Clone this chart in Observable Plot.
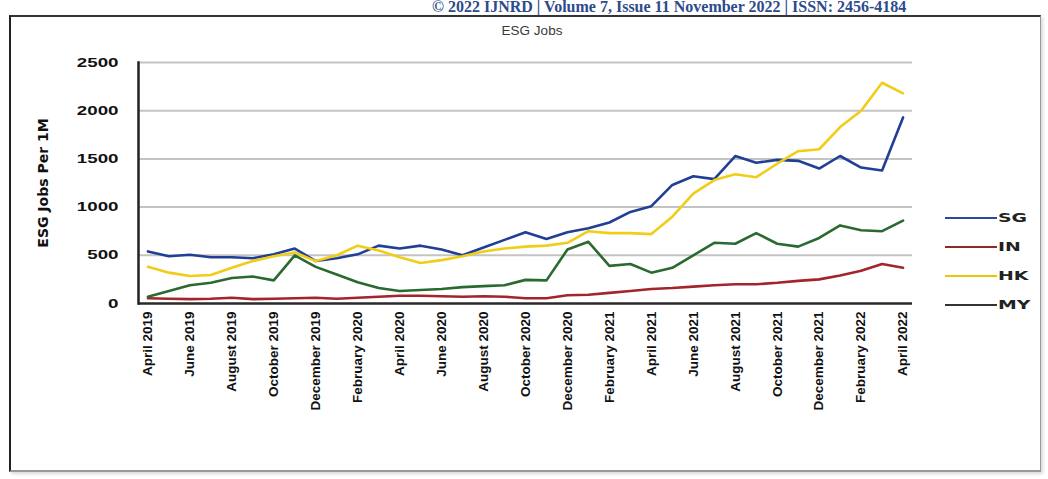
<!DOCTYPE html>
<html>
<head>
<meta charset="utf-8">
<script src="https://cdn.jsdelivr.net/npm/d3@7"></script>
<script src="https://cdn.jsdelivr.net/npm/@observablehq/plot@0.6"></script>
<style>
  html, body { margin: 0; padding: 0; background: #fff; }
  body { width: 1048px; height: 479px; overflow: hidden; position: relative; font-family: "Liberation Sans", Arial, sans-serif; }
  #header { position: absolute; left: 432px; top: 0px; white-space: nowrap; font-family: "Liberation Serif", serif; font-weight: bold; font-size: 16px; line-height: 14px; color: #2d4b8c; }
  #box { position: absolute; left: 9px; top: 15px; width: 1029px; height: 453px; border-left: 2px solid #222; border-top: 2px solid #333; border-right: 1px solid #999; border-bottom: 2px solid #999; box-shadow: 2px 2px 3px rgba(0,0,0,0.15); }
  #title { position: absolute; left: 0; width: 1064px; top: 23px; text-align: center; font-size: 13.5px; color: #3a3a3a; }
  #ylabel { position: absolute; left: 43px; top: 183px; transform: translate(-50%, -50%) rotate(-90deg); white-space: nowrap; font-family: "DejaVu Sans", sans-serif; font-weight: bold; font-size: 14px; color: #111; }
  #chart { position: absolute; left: 0; top: 0; }
  #legend { position: absolute; left: 945px; top: 203px; }
  .item { display: flex; align-items: center; height: 29px; }
  .swatch { width: 52px; height: 2px; }
  .name { font-family: "DejaVu Sans", sans-serif; font-weight: bold; font-size: 13px; color: #222; transform: scaleX(1.45); transform-origin: left center; margin-left: 1px; }
</style>
</head>
<body>
<div id="header">© 2022 IJNRD | Volume 7, Issue 11 November 2022 | ISSN: 2456-4184</div>
<div id="box"></div>
<div id="title">ESG Jobs</div>
<div id="ylabel">ESG Jobs Per 1M</div>
<div id="chart"></div>
<div id="legend"></div>
<script>
// Months on the x axis (April 2019 – April 2022)
const months = [
  "April 2019", "May 2019", "June 2019", "July 2019", "August 2019", "September 2019",
  "October 2019", "November 2019", "December 2019", "January 2020", "February 2020", "March 2020",
  "April 2020", "May 2020", "June 2020", "July 2020", "August 2020", "September 2020",
  "October 2020", "November 2020", "December 2020", "January 2021", "February 2021", "March 2021",
  "April 2021", "May 2021", "June 2021", "July 2021", "August 2021", "September 2021",
  "October 2021", "November 2021", "December 2021", "January 2022", "February 2022", "March 2022",
  "April 2022"
];

// ESG jobs per 1M, by market
const SG = [540, 490, 505, 480, 480, 470, 510, 570, 440, 470, 510, 600,
            570, 600, 560, 500, 580, 660, 740, 670, 740, 780, 840, 950,
            1010, 1230, 1320, 1290, 1530, 1460, 1490, 1480, 1400, 1530, 1410, 1380,
            1930];
const IN = [55, 50, 45, 50, 60, 45, 50, 55, 60, 50, 60, 70,
            80, 80, 75, 70, 75, 70, 55, 55, 85, 90, 110, 130,
            150, 160, 175, 190, 200, 200, 215, 235, 250, 290, 340, 410,
            370];
const HK = [380, 320, 285, 295, 370, 440, 490, 530, 440, 500, 600, 550,
            480, 420, 450, 490, 540, 570, 590, 600, 630, 750, 730, 730,
            720, 900, 1140, 1280, 1340, 1310, 1450, 1580, 1600, 1830, 2000, 2290,
            2180];
const MY = [70, 130, 190, 215, 265, 280, 240, 500, 380, 300, 220, 160,
            130, 140, 150, 170, 180, 190, 245, 240, 560, 640, 390, 410,
            320, 370, 500, 630, 620, 730, 620, 590, 680, 810, 760, 750,
            860];

const seriesNames = ["SG", "IN", "HK", "MY"];
const seriesColors = ["#203f95", "#a3242b", "#f0cd17", "#2a6a30"];
const legendColors = ["#2b4a9a", "#8e2a2a", "#e9c60a", "#333333"];
const yTicks = [0, 500, 1000, 1500, 2000, 2500];
const xTicks = months.filter((m, i) => i % 2 === 0);

const seriesValues = {SG, IN, HK, MY};
const rows = seriesNames.flatMap(name =>
  seriesValues[name].map((value, i) => ({month: months[i], value, name}))
);

const chart = Plot.plot({
  width: 1048,
  height: 479,
  marginLeft: 138,
  marginRight: 136,
  marginTop: 62,
  marginBottom: 176,
  style: {background: "transparent", fontFamily: "'Liberation Sans', Arial, sans-serif", color: "#111"},
  x: {type: "point", domain: months, padding: 0.45},
  y: {domain: [0, 2500]},
  color: {domain: seriesNames, range: seriesColors},
  marks: [
    Plot.ruleY(yTicks.filter(d => d > 0), {stroke: "#c4c4c4", strokeWidth: 2}),
    Plot.line(rows, {x: "month", y: "value", z: "name", stroke: "name", strokeWidth: 2.6, curve: "linear"}),
    Plot.ruleY([0], {stroke: "#2a2a2a", strokeWidth: 2.5}),
    Plot.frame({anchor: "left", stroke: "#222", strokeWidth: 2.5}),
    Plot.axisY({ticks: yTicks, tickFormat: d3.format("d"), tickSize: 0, tickPadding: 20, label: null, fontSize: 12.5, fontWeight: "bold", fill: "#111"}),
    Plot.axisX({ticks: xTicks, tickSize: 0, tickPadding: 8, tickRotate: -90, label: null, fontSize: 13.5, fontWeight: "bold", fill: "#111"})
  ]
});

// widen the y tick digits
d3.select(chart).selectAll("g[aria-label='y-axis tick label'] text").each(function () {
  const t = this.getAttribute("transform") || "";
  this.setAttribute("transform", t + " scale(1.5,1)");
});

document.getElementById("chart").appendChild(chart);

// legend: line swatch followed by the series name
const legend = d3.select("#legend");
seriesNames.forEach((name, i) => {
  const item = legend.append("div").attr("class", "item");
  item.append("div").attr("class", "swatch").style("background", legendColors[i]);
  item.append("span").attr("class", "name").text(name);
});
</script>
</body>
</html>
